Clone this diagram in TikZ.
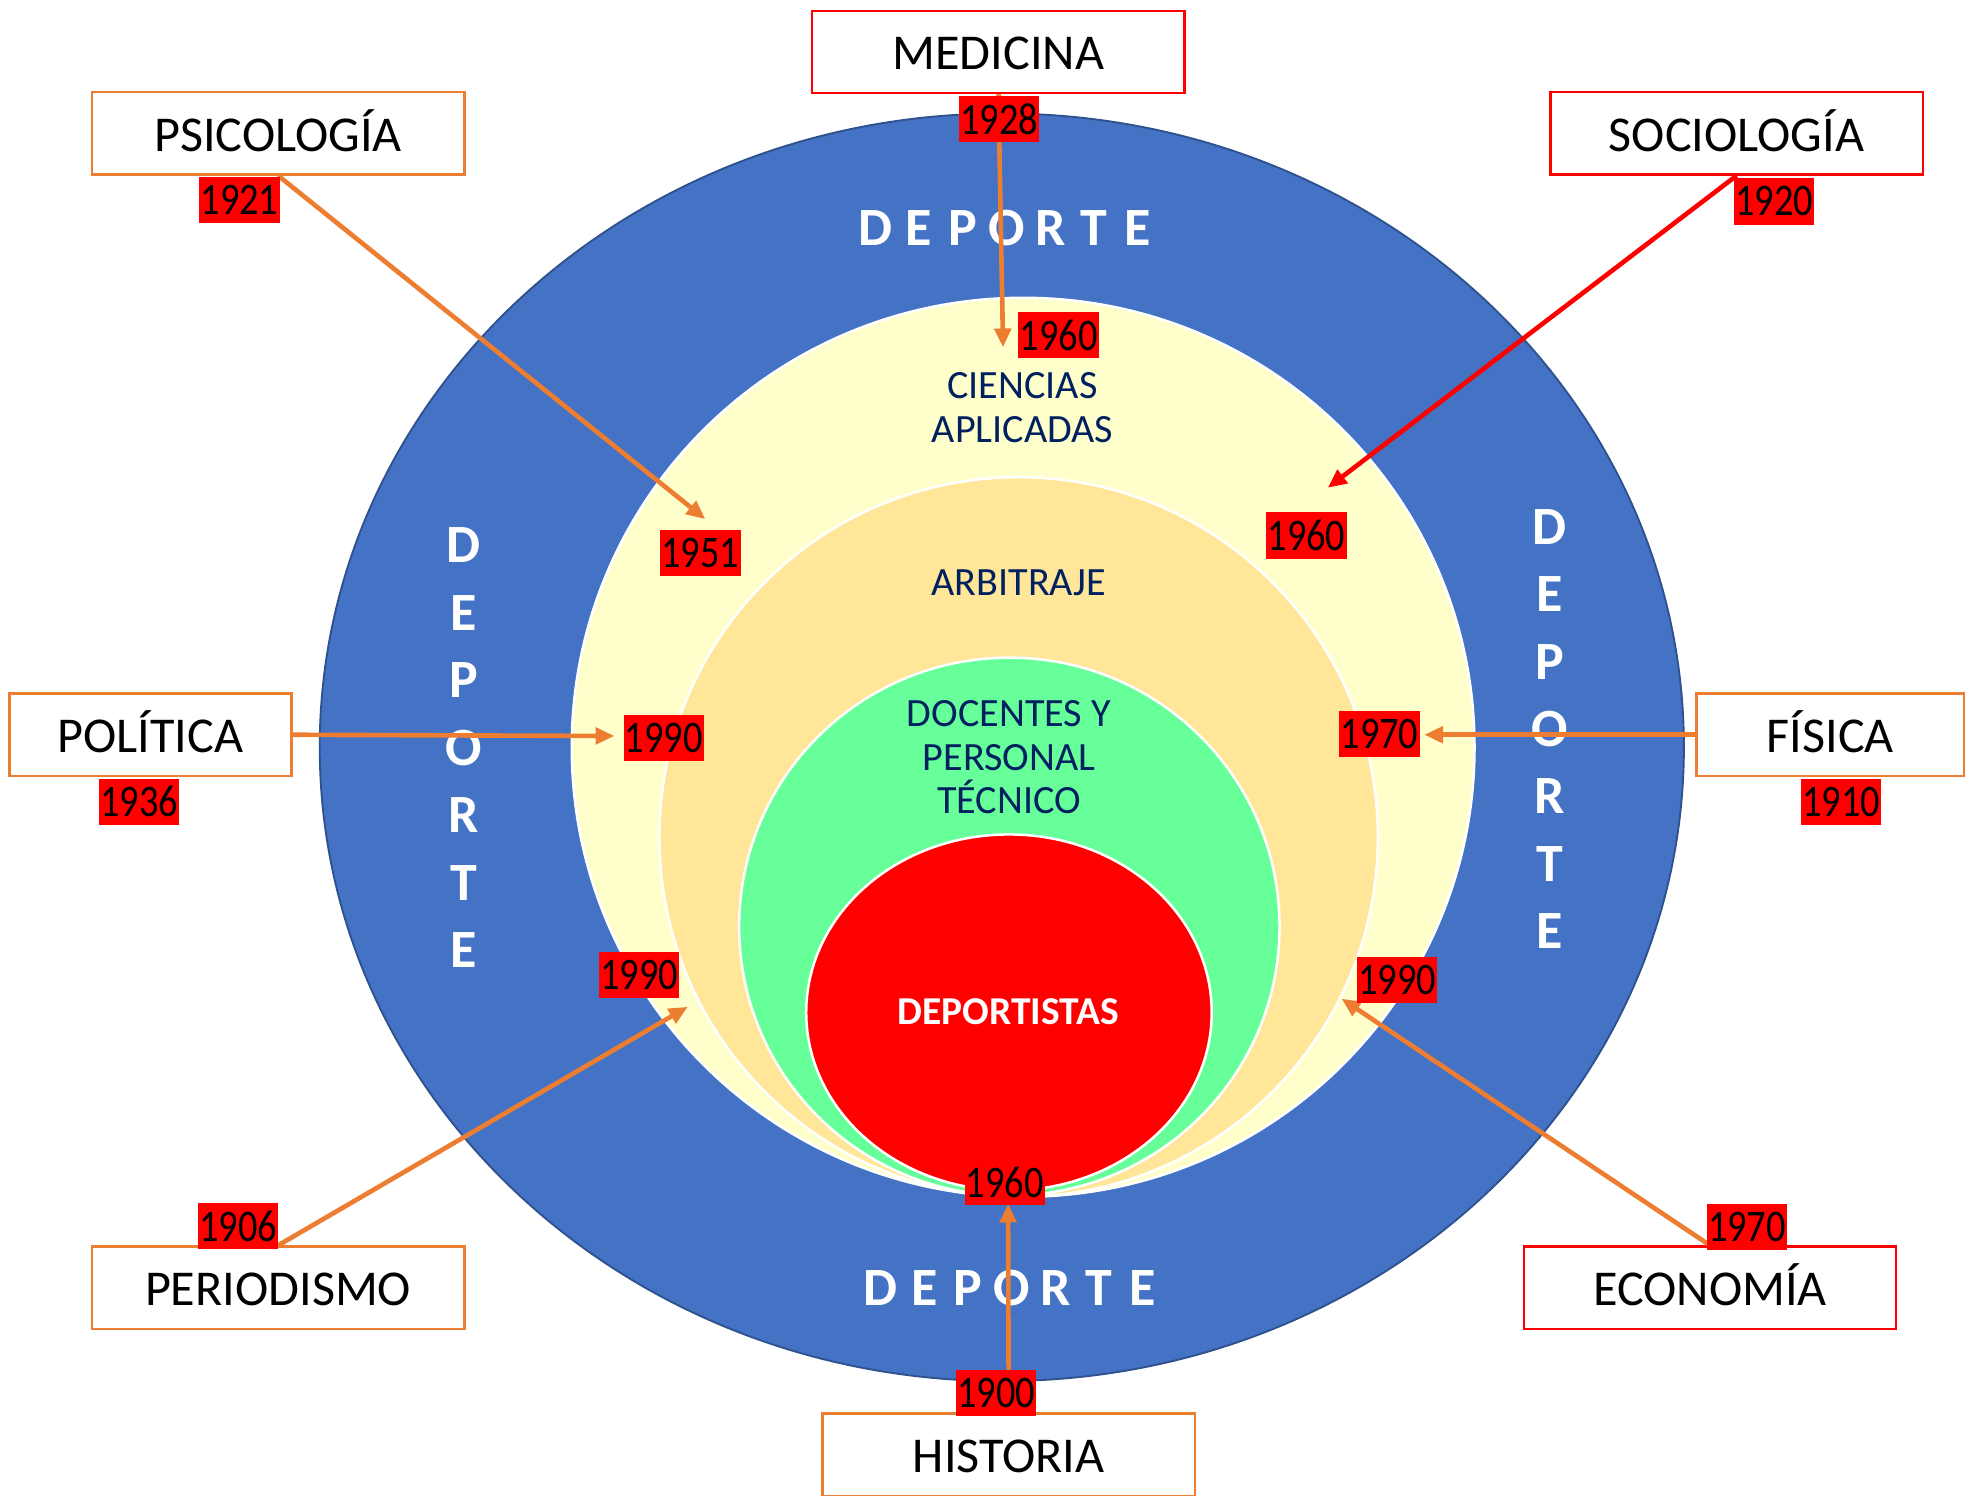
\documentclass[tikz,border=0pt]{standalone}
\usepackage{fontspec}
\setmainfont{Carlito}
\newfontfamily\yearfont[FakeStretch=0.85]{Carlito}
\usetikzlibrary{arrows.meta}
\definecolor{ringblue}{HTML}{4472C4}
\definecolor{ringedge}{HTML}{2F528F}
\definecolor{paleyellow}{HTML}{FFFFCC}
\definecolor{paleorange}{HTML}{FFE699}
\definecolor{mintgreen}{HTML}{66FF99}
\definecolor{navytext}{HTML}{002060}
\definecolor{linkorange}{HTML}{ED7D31}
\begin{document}
\begin{tikzpicture}[x=1pt,y=-1pt,
  field/.style={draw=#1, line width=2pt, fill=white, minimum width=297pt, minimum height=65.5pt, inner sep=0pt, text height=28.5pt, text depth=0pt, font=\fontsize{40}{48}\selectfont},
  yearbox/.style={fill=red, text=black, minimum width=64pt, minimum height=37pt, inner sep=0pt, font=\yearfont\fontsize{36}{40}\selectfont},
  link/.style={draw=#1, line width=3.7pt, -{Triangle[length=15pt,width=13pt]}},
  ringletter/.style={text=white, inner sep=0pt, font=\bfseries\fontsize{43}{50}\selectfont},
  innertext/.style={text=navytext, align=center, inner sep=0pt, font=\fontsize{32}{34.5}\selectfont},
  discedge/.style={draw=white, line width=2pt}
]
\useasboundingbox (0,0) rectangle (1568,1192.4);

% rings
\filldraw[fill=ringblue, draw=ringedge, line width=1.5pt] (799,596) ellipse [x radius=544pt, y radius=505.5pt];
\filldraw[fill=paleyellow, discedge] (816,596) ellipse [x radius=360pt, y radius=358.5pt];
\filldraw[fill=paleorange, discedge] (812.4,667.6) ellipse [x radius=286.5pt, y radius=287pt];
\filldraw[fill=mintgreen, discedge] (805,739) ellipse [x radius=215.5pt, y radius=214.5pt];
\filldraw[fill=red, discedge] (804.7,807.5) ellipse [x radius=161.7pt, y radius=142pt];

% inner texts
\node[innertext] (ciencias) at (815.5,325) {CIENCIAS\\APLICADAS};
\node[innertext] (arbitraje) at (812.5,464.7) {ARBITRAJE};
\node[innertext] (docentes) at (804.7,604) {DOCENTES Y\\PERSONAL\\TÉCNICO};
\node[text=white, inner sep=0pt, font=\bfseries\fontsize{31.5}{34}\selectfont] (deportistas) at (804,807) {DEPORTISTAS};

% DEPORTE letters
\foreach \l [count=\i from 0] in {D,E,P,O,R,T,E} {
  \node[ringletter] (top\i) at ({698+34.9*\i},181.6) {\l};
  \node[ringletter] (bot\i) at ({702.5+34.8*\i},1027.5) {\l};
  \node[ringletter] (lft\i) at (370,{435+53.8*\i}) {\l};
  \node[ringletter] (rgt\i) at (1236,{420+53.8*\i}) {\l};
}

% discipline boxes
\node[field=red] (med) at (796.3,41.4) {MEDICINA};
\node[field=linkorange] (psi) at (221.8,106.3) {PSICOLOGÍA};
\node[field=red] (soc) at (1385,106.3) {SOCIOLOGÍA};
\node[field=linkorange, minimum width=225pt] (pol) at (120,586) {POLÍTICA};
\node[field=linkorange, minimum width=213.5pt] (fis) at (1459.8,586) {FÍSICA};
\node[field=linkorange] (per) at (221.8,1027) {PERIODISMO};
\node[field=red] (eco) at (1363.8,1027) {ECONOMÍA};
\node[field=linkorange] (his) at (804.5,1160.2) {HISTORIA};

% arrow targets
\coordinate (tmed) at (800,277);
\coordinate (tpsi) at (562.5,414);
\coordinate (tsoc) at (1059,389);
\coordinate (tpol) at (490,587);
\coordinate (tfis) at (1136,586);
\coordinate (tper) at (548.5,803);
\coordinate (teco) at (1070,796.5);
\coordinate (this) at (804,960);

% arrows
\draw[link=linkorange] (med.south) -- (tmed);
\draw[link=linkorange] (psi.south) -- (tpsi);
\draw[link=red] (soc.south) -- (tsoc);
\draw[link=linkorange] (pol.east) -- (tpol);
\draw[link=linkorange] (fis.west) -- (tfis);
\draw[link=linkorange] (per.north) -- (tper);
\draw[link=linkorange] (eco.north) -- (teco);
\draw[link=linkorange] (his.north) -- (this);

% year labels
\node[yearbox] (y1928) at (797,95) {1928};
\node[yearbox] (y1921) at (191,159.3) {1921};
\node[yearbox] (y1920) at (1415,160.7) {1920};
\node[yearbox] (y1936) at (111,639.5) {1936};
\node[yearbox] (y1910) at (1468.3,639.5) {1910};
\node[yearbox] (y1906) at (190,977.8) {1906};
\node[yearbox] (y1970e) at (1393.3,978.8) {1970};
\node[yearbox] (y1900) at (794.5,1110.8) {1900};
\node[yearbox] (y1960t) at (844.3,267.3) {1960};
\node[yearbox] (y1951) at (558.6,440.8) {1951};
\node[yearbox] (y1960r) at (1042,427.1) {1960};
\node[yearbox] (y1990l) at (529.3,588.8) {1990};
\node[yearbox] (y1970r) at (1100.2,585.3) {1970};
\node[yearbox] (y1990bl) at (509.8,777.7) {1990};
\node[yearbox] (y1990br) at (1114.3,781.6) {1990};
\node[yearbox] (y1960b) at (801.3,942.8) {1960};
\end{tikzpicture}
\end{document}
